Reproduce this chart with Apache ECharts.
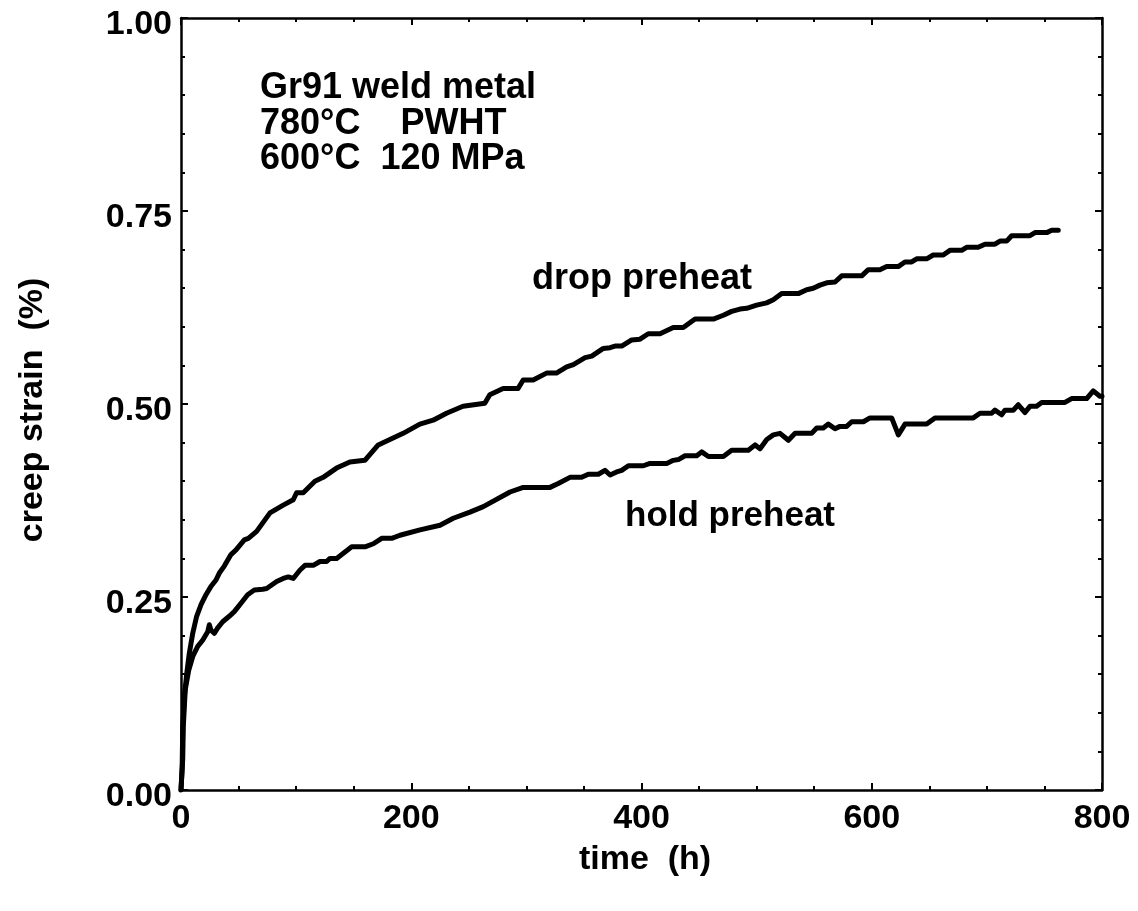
<!DOCTYPE html>
<html>
<head>
<meta charset="utf-8">
<script src="https://cdn.jsdelivr.net/npm/echarts@6/dist/echarts.min.js"></script>
<style>
html,body{margin:0;padding:0;background:#fff;}
#chart{width:1138px;height:911px;}
</style>
</head>
<body>
<div id="chart"></div>
<script>
// ---- data (time in h, creep strain in %) ----
var dropTime = [0, 0.5, 1.0, 1.5, 2.9, 5.0, 7.2, 10.2, 13.6, 17.4, 21.7, 26.1, 30.4, 33.3, 37.6, 43.4, 47.8, 55.0,
  58.5, 65.7, 77.3, 88.8, 97.5, 100.4, 106.2, 116.3, 123.5, 135.1, 146.7, 159.7, 171.3, 193.0, 207.5, 219.0, 230.6,
  245.0, 263.9, 268.2, 279.8, 292.8, 297.2, 305.9, 317.5, 326.1, 335.0, 340.8, 351.0, 356.8, 366.8, 372.7, 377.0,
  382.8, 391.5, 398.7, 405.9, 416.1, 427.6, 436.3, 446.5, 462.4, 471.1, 478.3, 485.6, 491.4, 500.0, 508.7, 514.5,
  521.8, 536.2, 543.5, 549.2, 555.0, 560.9, 568.1, 573.9, 591.3, 597.0, 607.1, 612.9, 623.0, 628.8, 634.7, 639.0,
  647.7, 653.4, 662.1, 667.9, 678.1, 682.4, 692.5, 698.3, 707.0, 711.4, 717.2, 721.5, 737.4, 741.8, 752.0, 756.3, 762.0];
var dropStrain = [0, 0, 0.03, 0.082, 0.121, 0.151, 0.177, 0.203, 0.225, 0.240, 0.253, 0.264, 0.272, 0.281, 0.290, 0.305, 0.311, 0.324,
  0.326, 0.335, 0.359, 0.369, 0.376, 0.385, 0.385, 0.400, 0.405, 0.417, 0.425, 0.427, 0.447, 0.462, 0.474, 0.479, 0.488,
  0.497, 0.501, 0.512, 0.520, 0.520, 0.531, 0.531, 0.540, 0.540, 0.548, 0.551, 0.560, 0.562, 0.572, 0.573, 0.575,
  0.575, 0.583, 0.584, 0.591, 0.591, 0.599, 0.599, 0.610, 0.610, 0.615, 0.620, 0.623, 0.624, 0.628, 0.631, 0.635,
  0.643, 0.643, 0.648, 0.650, 0.654, 0.657, 0.658, 0.666, 0.666, 0.674, 0.674, 0.678, 0.678, 0.684, 0.684, 0.688,
  0.688, 0.693, 0.693, 0.699, 0.699, 0.703, 0.703, 0.707, 0.707, 0.711, 0.711, 0.718, 0.718, 0.722, 0.722, 0.725, 0.725];

var holdTime = [0, 0.8, 1.5, 2.0, 3.7, 6.7, 10.2, 14.5, 18.8, 23.2, 24.6, 26.1, 28.9, 31.9, 36.2, 41.9, 46.3, 52.1, 57.9,
  63.7, 71.0, 74.4, 83.1, 88.8, 93.2, 97.5, 103.4, 107.7, 114.9, 120.7, 126.5, 129.4, 135.2, 148.3, 159.8, 167.1,
  174.3, 183.0, 190.2, 207.6, 225.0, 236.5, 251.0, 262.6, 285.8, 297.3, 320.5, 327.7, 337.9, 348.0, 353.8, 362.5,
  368.3, 372.7, 378.4, 382.8, 388.6, 401.6, 407.4, 421.9, 427.6, 432.0, 437.8, 448.0, 452.3, 458.1, 471.1, 478.3,
  492.8, 498.7, 503.0, 508.8, 514.5, 520.3, 527.6, 533.4, 547.8, 552.2, 557.9, 562.3, 568.1, 572.4, 578.2, 582.6,
  592.7, 598.5, 617.3, 623.1, 628.9, 647.7, 654.9, 688.2, 694.0, 704.2, 707.0, 712.8, 715.7, 722.9, 727.3, 733.1,
  737.4, 743.2, 747.6, 767.8, 773.6, 786.7, 792.4, 798.2, 800.0];
var holdStrain = [0, 0, 0.04, 0.082, 0.130, 0.155, 0.173, 0.186, 0.194, 0.205, 0.214, 0.207, 0.203, 0.210, 0.218, 0.225, 0.231, 0.242, 0.253,
  0.259, 0.260, 0.261, 0.270, 0.274, 0.276, 0.274, 0.285, 0.291, 0.291, 0.296, 0.296, 0.300, 0.300, 0.315, 0.315, 0.319,
  0.326, 0.326, 0.330, 0.337, 0.343, 0.352, 0.360, 0.367, 0.386, 0.392, 0.392, 0.397, 0.405, 0.405, 0.409, 0.409,
  0.414, 0.408, 0.412, 0.414, 0.420, 0.420, 0.423, 0.423, 0.427, 0.428, 0.433, 0.433, 0.438, 0.432, 0.432, 0.440,
  0.440, 0.447, 0.442, 0.454, 0.460, 0.462, 0.453, 0.462, 0.462, 0.469, 0.469, 0.474, 0.468, 0.471, 0.471, 0.477,
  0.477, 0.482, 0.482, 0.460, 0.474, 0.474, 0.482, 0.482, 0.488, 0.488, 0.492, 0.486, 0.492, 0.492, 0.499, 0.489,
  0.497, 0.497, 0.502, 0.502, 0.507, 0.507, 0.517, 0.510, 0.510];

var xTicks = [0, 200, 400, 600, 800];
var yTicks = [0, 0.25, 0.5, 0.75, 1.0];
var seriesNames = ['drop preheat', 'hold preheat'];
var infoLines = ['Gr91 weld metal', '780°C    PWHT', '600°C  120 MPa'];
var xTitle = 'time  (h)';
var yTitle = 'creep strain  (%)';

function zip(a, b) { return a.map(function (v, i) { return [v, b[i]]; }); }

var FONT = '"Liberation Sans", Arial, Helvetica, sans-serif';
var FS = 34;     // tick labels and axis titles
var FA = 36;     // annotations
function axisLine() { return { show: true, onZero: false, lineStyle: { color: '#000', width: 2.5 } }; }
function tick() { return { show: true, inside: true, length: 7, lineStyle: { color: '#000', width: 2 } }; }
function minor(n) { return { show: true, splitNumber: n, length: 4, lineStyle: { color: '#000', width: 2 } }; }

var chart = echarts.init(document.getElementById('chart'), null, { renderer: 'canvas' });

var option = {
  backgroundColor: '#fff',
  animation: false,
  grid: { left: 181, right: 36, top: 18, bottom: 121, containLabel: false },
  xAxis: [
    {
      type: 'value', position: 'bottom', min: xTicks[0], max: xTicks[xTicks.length - 1], interval: 200,
      axisLine: axisLine(), axisTick: tick(), minorTick: minor(4), splitLine: { show: false },
      axisLabel: { show: true, margin: 12, color: '#000', fontFamily: FONT, fontWeight: 'bold', fontSize: FS,
        formatter: function (v) { return String(v); } }
    },
    {
      type: 'value', position: 'top', min: xTicks[0], max: xTicks[xTicks.length - 1], interval: 200,
      axisLine: axisLine(), axisTick: tick(), minorTick: minor(4), splitLine: { show: false },
      axisLabel: { show: false }
    }
  ],
  yAxis: [
    {
      type: 'value', position: 'left', min: yTicks[0], max: yTicks[yTicks.length - 1], interval: 0.25,
      axisLine: axisLine(), axisTick: tick(), minorTick: minor(5), splitLine: { show: false },
      axisLabel: { show: true, margin: 9, color: '#000',
        formatter: function (v) { return '{t|' + v.toFixed(2) + '}'; },
        rich: { t: { fontFamily: FONT, fontWeight: 'bold', fontSize: FS, color: '#000', padding: [14, 0, 0, 0] } } }
    },
    {
      type: 'value', position: 'right', min: yTicks[0], max: yTicks[yTicks.length - 1], interval: 0.25,
      axisLine: axisLine(), axisTick: tick(), minorTick: minor(5), splitLine: { show: false },
      axisLabel: { show: false }
    }
  ],
  series: [
    {
      name: seriesNames[0], type: 'line', xAxisIndex: 0, yAxisIndex: 0,
      data: zip(dropTime, dropStrain), showSymbol: false, symbol: 'none', smooth: false,
      lineStyle: { color: '#000', width: 5, join: 'round', cap: 'round' }, z: 5
    },
    {
      name: seriesNames[1], type: 'line', xAxisIndex: 0, yAxisIndex: 0,
      data: zip(holdTime, holdStrain), showSymbol: false, symbol: 'none', smooth: false,
      lineStyle: { color: '#000', width: 5, join: 'round', cap: 'round' }, z: 5
    }
  ],
  graphic: [
    { type: 'text', x: 260, y: 88, style: { text: infoLines[0], fill: '#000', font: 'bold ' + FA + 'px ' + FONT, textVerticalAlign: 'middle' } },
    { type: 'text', x: 260, y: 124.5, style: { text: infoLines[1], fill: '#000', font: 'bold ' + FA + 'px ' + FONT, textVerticalAlign: 'middle' } },
    { type: 'text', x: 260, y: 159.5, style: { text: infoLines[2], fill: '#000', font: 'bold ' + FA + 'px ' + FONT, textVerticalAlign: 'middle' } },
    { type: 'text', x: 532, y: 279.5, style: { text: seriesNames[0], fill: '#000', font: 'bold ' + FA + 'px ' + FONT, textVerticalAlign: 'middle' } },
    { type: 'text', x: 625, y: 516, style: { text: seriesNames[1], fill: '#000', font: 'bold 35px ' + FONT, textVerticalAlign: 'middle' } },
    { type: 'text', x: 645, y: 860, style: { text: xTitle, fill: '#000', font: 'bold ' + FS + 'px ' + FONT,
      textAlign: 'center', textVerticalAlign: 'middle' } },
    { type: 'text', x: 33, y: 410, rotation: Math.PI / 2, style: { text: yTitle, fill: '#000', font: 'bold ' + FS + 'px ' + FONT,
      textAlign: 'center', textVerticalAlign: 'middle' } }
  ]
};
chart.setOption(option);
</script>
</body>
</html>
